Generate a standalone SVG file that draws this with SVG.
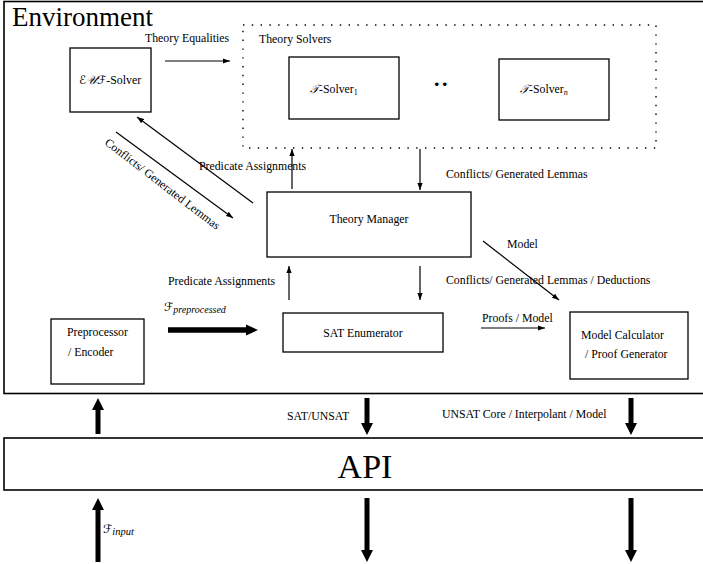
<svg xmlns="http://www.w3.org/2000/svg" width="703" height="564" viewBox="0 0 703 564">
<defs>
<style>
text{font-family:"Liberation Serif","DejaVu Serif","DejaVu Sans",serif;font-size:11.8px;fill:#000}
.box{fill:#fff;stroke:#000;stroke-width:1.3}
.frame{fill:none;stroke:#000;stroke-width:1.6}
.dot{fill:none;stroke:#000;stroke-width:1.4;stroke-dasharray:1.4 7.4}
.ln{stroke:#000;stroke-width:1.2;fill:none}
.thick{fill:#000;stroke:none}
.it{font-style:italic}
.cal{font-family:"DejaVu Serif","DejaVu Sans","Noto Sans",serif;font-style:italic}
</style>
<marker id="ah" markerUnits="userSpaceOnUse" markerWidth="8" markerHeight="6" refX="7" refY="3" orient="auto">
<path d="M0,0.4 L7,3 L0,5.6 z" fill="#000"/>
</marker>
</defs>

<g id="environment">
<rect class="frame" x="4" y="1.5" width="712" height="392"/>
<text x="12" y="26" style="font-size:27px">Environment</text>
</g>

<g id="api">
<rect class="frame" x="4" y="438" width="712" height="52"/>
<text x="365" y="478" text-anchor="middle" style="font-size:34px">API</text>
</g>

<g id="euf-solver">
<rect class="box" x="70" y="48" width="81" height="64"/>
<text x="110" y="84" text-anchor="middle"><tspan class="cal">ℰ𝒰ℱ</tspan>-Solver</text>
</g>

<g id="theory-solvers">
<rect class="dot" x="243" y="25" width="413" height="123"/>
<text x="259" y="43">Theory Solvers</text>
</g>

<g id="t-solver-1">
<rect class="box" x="289" y="57" width="110" height="62"/>
<text x="310" y="93"><tspan class="cal">𝒯</tspan>-Solver<tspan style="font-size:8px" dy="2">1</tspan></text>
</g>

<g id="dots">
<text x="434" y="86" style="font-size:22px;font-weight:bold;letter-spacing:2.5px">..</text>
</g>

<g id="t-solver-n">
<rect class="box" x="499" y="59" width="110" height="61"/>
<text x="520" y="93"><tspan class="cal">𝒯</tspan>-Solver<tspan class="it" style="font-size:8px" dy="2">n</tspan></text>
</g>

<g id="theory-manager">
<rect class="box" x="267" y="192" width="204" height="65"/>
<text x="369" y="223" text-anchor="middle">Theory Manager</text>
</g>

<g id="sat-enumerator">
<rect class="box" x="283" y="313" width="160" height="39"/>
<text x="363" y="337" text-anchor="middle">SAT Enumerator</text>
</g>

<g id="preprocessor">
<rect class="box" x="51" y="319" width="93" height="65"/>
<text x="67" y="336">Preprocessor</text>
<text x="68" y="356">/ Encoder</text>
</g>

<g id="model-calculator">
<rect class="box" x="570" y="312" width="118" height="67"/>
<text x="581" y="339">Model Calculator</text>
<text x="585" y="358">/ Proof Generator</text>
</g>

<g id="connectors">
<line class="ln" x1="165" y1="61" x2="230" y2="61" marker-end="url(#ah)"/>
<text x="145" y="42">Theory Equalities</text>

<line class="ln" x1="420" y1="149" x2="420" y2="190" marker-end="url(#ah)"/>
<text x="446" y="178">Conflicts/ Generated Lemmas</text>

<line class="ln" x1="292" y1="189" x2="292" y2="149" marker-end="url(#ah)"/>
<text x="199" y="170">Predicate Assignments</text>

<line class="ln" x1="253" y1="203" x2="137" y2="117" marker-end="url(#ah)"/>
<line class="ln" x1="116" y1="132" x2="233" y2="218" marker-end="url(#ah)"/>
<text transform="translate(104,144) rotate(37.5)">Conflicts/ Generated Lemmas</text>

<line class="ln" x1="289" y1="300" x2="289" y2="266" marker-end="url(#ah)"/>
<text x="168" y="285">Predicate Assignments</text>

<line class="ln" x1="420" y1="266" x2="420" y2="300" marker-end="url(#ah)"/>
<text x="446" y="284">Conflicts/ Generated Lemmas / Deductions</text>

<line class="ln" x1="483" y1="241" x2="559" y2="300" marker-end="url(#ah)"/>
<text x="507" y="248">Model</text>

<line class="ln" x1="481" y1="328" x2="545" y2="328" marker-end="url(#ah)"/>
<text x="482" y="322">Proofs / Model</text>

<polygon class="thick" points="168,327.2 246,327.2 246,324.5 258,330 246,335.5 246,332.8 168,332.8"/>
<text x="164" y="311"><tspan class="cal">ℱ</tspan><tspan class="it" style="font-size:10px" dy="1.5">preprocessed</tspan></text>

<polygon class="thick" points="95.5,434 95.5,410 92,410 98,398 104,410 100.5,410 100.5,434"/>

<polygon class="thick" points="364.5,398 364.5,423 361,423 367,435 373,423 369.5,423 369.5,398"/>
<text x="287" y="420">SAT/UNSAT</text>

<polygon class="thick" points="628.5,398 628.5,423 625,423 631,435 637,423 633.5,423 633.5,398"/>
<text x="442" y="418">UNSAT Core / Interpolant / Model</text>

<polygon class="thick" points="95.5,562 95.5,510 92,510 98,498 104,510 100.5,510 100.5,562"/>
<text x="103" y="533"><tspan class="cal">ℱ</tspan><tspan class="it" style="font-size:10.5px" dy="1.5">input</tspan></text>

<polygon class="thick" points="364.5,498 364.5,550 361,550 367,562 373,550 369.5,550 369.5,498"/>

<polygon class="thick" points="628.5,498 628.5,550 625,550 631,562 637,550 633.5,550 633.5,498"/>
</g>
</svg>
